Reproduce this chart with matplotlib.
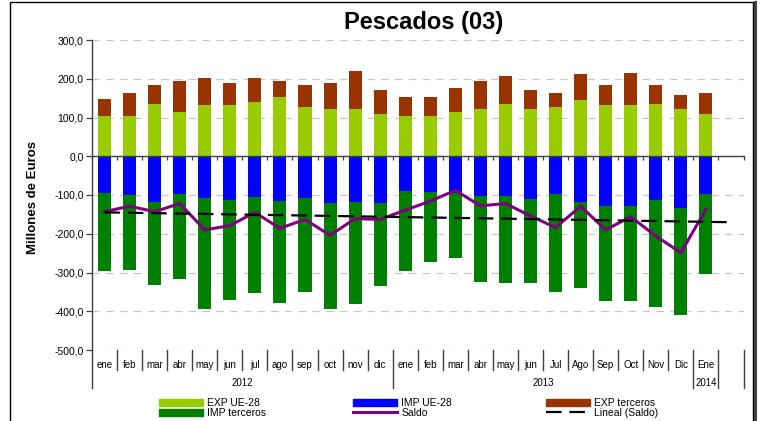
import matplotlib
matplotlib.use("Agg")
import matplotlib.pyplot as plt
import matplotlib.transforms as mtransforms
from matplotlib.patches import Rectangle, Patch
from matplotlib.lines import Line2D
import numpy as np

plt.rcParams['font.family'] = ['Liberation Sans', 'DejaVu Sans']

# ---------------------------------------------------------
# Data (millones de euros), ene 2012 - ene 2014
# ---------------------------------------------------------
meses = ['ene', 'feb', 'mar', 'abr', 'may', 'jun', 'jul', 'ago', 'sep', 'oct', 'nov', 'dic',
         'ene', 'feb', 'mar', 'abr', 'may', 'jun', 'Jul', 'Ago', 'Sep', 'Oct', 'Nov', 'Dic',
         'Ene', '']
anios = ['2012', '2013', '2014', '']
meses_por_anio = [12, 12, 1, 1]

exp_ue = [105, 105, 136, 113, 131, 133, 139, 152, 128, 123, 123, 110,
          105, 105, 113, 121, 136, 121, 126, 144, 133, 133, 136, 121, 110]
exp_terceros = [44, 59, 49, 80, 72, 55, 64, 41, 57, 67, 96, 60,
                49, 47, 62, 74, 70, 49, 38, 67, 50, 83, 47, 36, 54]
imp_ue = [95, 100, 118, 97, 107, 112, 106, 116, 107, 121, 118, 121,
          90, 93, 95, 103, 103, 111, 98, 118, 129, 129, 113, 134, 98]
imp_terceros = [201, 193, 214, 220, 287, 259, 247, 262, 243, 273, 263, 214,
                206, 180, 168, 221, 224, 216, 252, 222, 244, 244, 276, 275, 206]
saldo = [-143, -129, -143, -122, -190, -179, -145, -186, -163, -204, -161, -163,
         -139, -116, -88, -128, -122, -154, -184, -129, -190, -156, -206, -249, -137]

C_EXP_UE = '#99CC00'
C_EXP_TER = '#993300'
C_IMP_UE = '#0000FF'
C_IMP_TER = '#008000'
C_SALDO = '#800080'
C_AXIS = '#404040'

W, H = 765, 421
fig = plt.figure(figsize=(W / 100, H / 100), dpi=100)
ax = fig.add_axes([92 / W, 1 - 350 / H, 651.5 / W, 310 / H])

n = len(saldo)
x = np.arange(n)
bw = 0.52

exp_ue_a = np.array(exp_ue)
imp_ue_a = -np.array(imp_ue)
ax.bar(x, exp_ue_a, bw, color=C_EXP_UE, zorder=2)
ax.bar(x, exp_terceros, bw, bottom=exp_ue_a, color=C_EXP_TER, zorder=2)
ax.bar(x, imp_ue_a, bw, color=C_IMP_UE, zorder=2)
ax.bar(x, -np.array(imp_terceros), bw, bottom=imp_ue_a, color=C_IMP_TER, zorder=2)

ax.plot(x, saldo, color=C_SALDO, lw=2.2, zorder=4)

# linear trend of saldo, extended over the empty last slot
coef = np.polyfit(x, saldo, 1)
xt = np.arange(len(meses))
ax.plot(xt, np.polyval(coef, xt), color='black', lw=1.6, dashes=(7, 3.5), zorder=5)

ax.set_xlim(-0.5, len(meses) - 0.5)
ax.set_ylim(-500, 300)
ax.set_yticks(np.arange(-500, 301, 100))
ax.set_yticklabels([f"{v:.1f}".replace('.', ',') for v in np.arange(-500, 301, 100)],
                   fontsize=7.5)
ax.yaxis.grid(True, color='#C8C8C8', lw=0.9, linestyle=(0, (6, 5)))
ax.set_axisbelow(True)
ax.tick_params(axis='y', direction='out', length=4, color=C_AXIS, width=0.9, pad=2)

for s in ['top', 'right', 'left']:
    ax.spines[s].set_visible(False)
ax.spines['bottom'].set_position(('data', 0))
ax.spines['bottom'].set_color(C_AXIS)
ax.spines['bottom'].set_linewidth(1.0)
ax.spines['bottom'].set_zorder(3)
ax.set_xticks(np.arange(-0.5, len(meses)))
ax.set_xticklabels([])
ax.tick_params(axis='x', direction='out', length=3, color=C_AXIS, width=0.9)

# category table under the plot
trans = mtransforms.blended_transform_factory(ax.transData, ax.transAxes)
y_short = -20 / 310
y_long = -38 / 310
ax.plot([-0.5, -0.5], [1, y_long], transform=trans, color=C_AXIS, lw=1.0, clip_on=False)
limites = list(np.cumsum(meses_por_anio) - 0.5)
for b in np.arange(0.5, len(meses) + 0.5):
    bottom = y_long if b in limites else y_short
    ax.plot([b, b], [0, bottom], transform=trans, color=C_AXIS, lw=1.0, clip_on=False)
for i, m in enumerate(meses):
    ax.text(i, -15 / 310, m, transform=trans, ha='center', va='center', fontsize=7)
start = 0
for a, k in zip(anios, meses_por_anio):
    ax.text(start + (k - 1) / 2, -33 / 310, a, transform=trans, ha='center', va='center',
            fontsize=7)
    start += k

# titles
fig.text(424 / W, 1 - 22 / H, 'Pescados (03)', ha='center', va='center',
         fontsize=17, fontweight='bold')
fig.text(33 / W, 1 - 197 / H, 'Millones de Euros', ha='center', va='center',
         rotation=90, fontsize=9.5, fontweight='bold')

# legend in three columns
fs = 7.5
hl = 44 / (fs * 100 / 72)
cols = [
    (159, [Patch(color=C_EXP_UE), Patch(color=C_IMP_TER)], ['EXP UE-28', 'IMP terceros']),
    (353, [Patch(color=C_IMP_UE), Line2D([], [], color=C_SALDO, lw=2.2)], ['IMP UE-28', 'Saldo']),
    (546, [Patch(color=C_EXP_TER), Line2D([], [], color='black', lw=1.6, dashes=(7, 3.5))],
     ['EXP terceros', 'Lineal (Saldo)']),
]
for xpos, handles, labels in cols:
    leg = fig.legend(handles, labels, loc='upper left', bbox_to_anchor=(xpos / W, 1 - 398 / H),
                     frameon=False, fontsize=fs, handlelength=hl, handleheight=0.7,
                     handletextpad=0.4, labelspacing=0.0, borderpad=0, borderaxespad=0)

# outer frame
fig.patches.append(Rectangle((10 / W, -0.1), 743 / W, 1.1 - 2 / H, transform=fig.transFigure,
                             fill=False, edgecolor='black', lw=1.0))
fig.lines.append(Line2D([755 / W, 755 / W], [0, 1 - 2 / H], transform=fig.transFigure,
                        color='#404040', lw=2.2))

fig.savefig('out.png', dpi=100)
